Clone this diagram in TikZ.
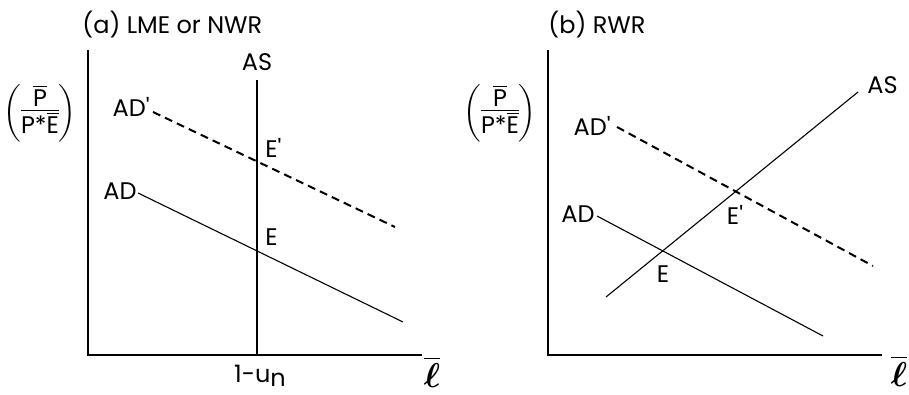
\documentclass[tikz,border=0pt]{standalone}
\usepackage{amsmath,amssymb}
\usepackage{fontspec}
\setmainfont{Poppins}[Ligatures=TeXOff]
\usetikzlibrary{positioning}
\tikzset{
    every node/.style={font=\fontsize{12}{13}\selectfont,inner sep=1pt},
    axisline/.style={draw,line width=0.85pt},
    curve/.style={draw,line width=0.55pt},
    shifted/.style={draw,line width=1pt,dash pattern=on 4pt off 2.6pt},
    ratio/.style={font=\fontsize{12}{13}\selectfont},
    ell/.style={font=\fontsize{19}{21}\selectfont},
}
\newcommand{\realx}{$\left(\vcenter{\hbox{\begin{tabular}{@{}c@{}}$\overline{\text{P}}$\\[-2pt]\hline\rule{0pt}{11pt}P*$\overline{\text{E}}$\end{tabular}}}\right)$}
\newcommand{\emplx}{$\overline{\boldsymbol{\ell}}$}

\begin{document}
\begin{tikzpicture}[x=0.5pt,y=-0.5pt]
\useasboundingbox (0,0) rectangle (909,395);
% axes of both panels
\foreach \x/\p in {88/a,548/b}{
    \coordinate (\p top) at (\x,50);
    \coordinate (\p orig) at (\x,355);
    \coordinate (\p end) at (\x+334,355);
    \draw[axisline] (\p top) -- (\p orig) -- (\p end);
}
% (a) LME or NWR
\node[anchor=west] (atitle) at (80,25) {(a) LME or NWR};
\coordinate (aastop) at (257,80);
\coordinate (aasbot) at (257,355);
\coordinate (aadps) at (153,112);
\coordinate (aadpe) at (395,227);
\coordinate (aads) at (138,193);
\coordinate (aade) at (403,322);
\draw[curve] (aastop) -- (aasbot);
\draw[shifted] (aadps) -- (aadpe);
\draw[curve] (aads) -- (aade);
\node (aas) at (257,62) {AS};
\node[anchor=east] (aadp) at (152,107) {AD'};
\node[anchor=east] (aad) at (139,191) {AD};
\node[anchor=west] (aep) at (263,148) {E'};
\node[anchor=west] (ae) at (263,237) {E};
\node (aun) at (260,376) {1-u\raisebox{-0.3ex}{n}};
\node[ell] (aell) at (432,372) {\emplx};
\node[ratio] (ay) at (40,113) {\realx};
% (b) RWR
\node[anchor=west] (btitle) at (546,25) {(b) RWR};
\coordinate (bass) at (606,297);
\coordinate (base) at (858,92);
\coordinate (badps) at (617,127);
\coordinate (badpe) at (873,266);
\coordinate (bads) at (597,216);
\coordinate (bade) at (823,336);
\draw[curve] (bass) -- (base);
\draw[shifted] (badps) -- (badpe);
\draw[curve] (bads) -- (bade);
\node[anchor=west] (bas) at (865,85) {AS};
\node[anchor=east] (badp) at (613,126) {AD'};
\node[anchor=east] (bad) at (597,214) {AD};
\node (bep) at (735,215) {E'};
\node (be) at (663,274) {E};
\node[ell] (bell) at (899,371) {\emplx};
\node[ratio] (by) at (500,113) {\realx};
\end{tikzpicture}
\end{document}
